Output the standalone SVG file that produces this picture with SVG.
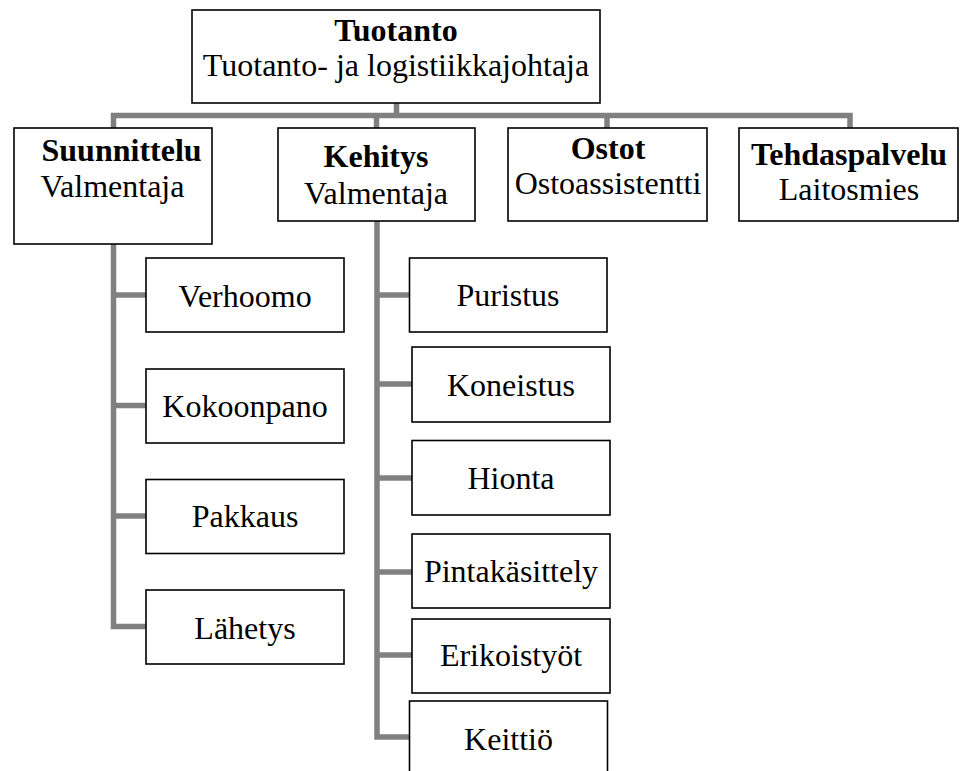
<svg xmlns="http://www.w3.org/2000/svg" width="960" height="771" viewBox="0 0 960 771">
  <style>
    .box { fill: #ffffff; stroke: #000000; stroke-width: 1.6; }
    .t { font-family: "Liberation Serif", "Times New Roman", serif; font-size: 32px; fill: #000000; text-anchor: middle; }
    .b { font-weight: bold; }
    .l { text-anchor: start; }
    .wire { fill: none; stroke: #808080; stroke-width: 5.5; stroke-linejoin: miter; stroke-linecap: butt; }
  </style>

  <!-- connectors -->
  <g id="connectors">
    <path class="wire" d="M396.5,103 V115.5"/>
    <path class="wire" d="M113.5,128 V115.5 H850 V128"/>
    <path class="wire" d="M376.5,115.5 V128"/>
    <path class="wire" d="M607,115.5 V128"/>
    <!-- Suunnittelu branch -->
    <path class="wire" d="M113.5,244 V626.5 H146"/>
    <path class="wire" d="M113.5,295 H146"/>
    <path class="wire" d="M113.5,405.5 H146"/>
    <path class="wire" d="M113.5,516 H146"/>
    <!-- Kehitys branch -->
    <path class="wire" d="M377,221 V737 H409"/>
    <path class="wire" d="M377,295 H409"/>
    <path class="wire" d="M377,384 H412"/>
    <path class="wire" d="M377,478 H412"/>
    <path class="wire" d="M377,572 H412"/>
    <path class="wire" d="M377,655 H412"/>
  </g>

  <g id="tuotanto">
    <rect class="box" x="192" y="10" width="408" height="93"/>
    <text class="t b" x="396" y="41">Tuotanto</text>
    <text class="t" x="396" y="76">Tuotanto- ja logistiikkajohtaja</text>
  </g>

  <g id="suunnittelu">
    <rect class="box" x="14" y="128" width="198" height="116"/>
    <text class="t b l" x="41.5" y="161">Suunnittelu</text>
    <text class="t l" x="40.5" y="197">Valmentaja</text>
  </g>

  <g id="kehitys">
    <rect class="box" x="278" y="128" width="197" height="93"/>
    <text class="t b" x="376" y="167">Kehitys</text>
    <text class="t" x="376" y="204">Valmentaja</text>
  </g>

  <g id="ostot">
    <rect class="box" x="508" y="128" width="199" height="93"/>
    <text class="t b" x="608" y="159">Ostot</text>
    <text class="t" x="608" y="194">Ostoassistentti</text>
  </g>

  <g id="tehdaspalvelu">
    <rect class="box" x="739" y="128" width="219" height="93"/>
    <text class="t b" x="849" y="165">Tehdaspalvelu</text>
    <text class="t" x="849" y="200">Laitosmies</text>
  </g>

  <g id="verhoomo">
    <rect class="box" x="146" y="258" width="198" height="74"/>
    <text class="t" x="245" y="306.5">Verhoomo</text>
  </g>
  <g id="kokoonpano">
    <rect class="box" x="146" y="369" width="198" height="74"/>
    <text class="t" x="245" y="416.5">Kokoonpano</text>
  </g>
  <g id="pakkaus">
    <rect class="box" x="146" y="479.5" width="198" height="74"/>
    <text class="t" x="245" y="527">Pakkaus</text>
  </g>
  <g id="lahetys">
    <rect class="box" x="146" y="590" width="198" height="74"/>
    <text class="t" x="245" y="639">Lähetys</text>
  </g>

  <g id="puristus">
    <rect class="box" x="409.5" y="258" width="197.5" height="74"/>
    <text class="t" x="508" y="306">Puristus</text>
  </g>
  <g id="koneistus">
    <rect class="box" x="412" y="347" width="198" height="75"/>
    <text class="t" x="511" y="396">Koneistus</text>
  </g>
  <g id="hionta">
    <rect class="box" x="412" y="440.5" width="198" height="74.5"/>
    <text class="t" x="511" y="488.5">Hionta</text>
  </g>
  <g id="pintakasittely">
    <rect class="box" x="412" y="534" width="198" height="74"/>
    <text class="t" x="511" y="582">Pintakäsittely</text>
  </g>
  <g id="erikoistyot">
    <rect class="box" x="412" y="619" width="198" height="74"/>
    <text class="t" x="511" y="666">Erikoistyöt</text>
  </g>
  <g id="keittio">
    <rect class="box" x="409.5" y="701" width="198" height="80"/>
    <text class="t" x="508.5" y="750">Keittiö</text>
  </g>
</svg>
